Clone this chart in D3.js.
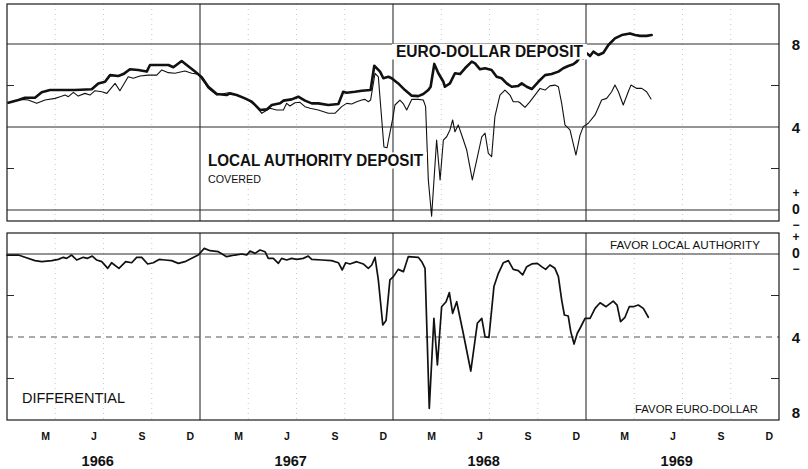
<!DOCTYPE html>
<html lang="en">
<meta charset="utf-8">
<style>
  body { margin: 0; background: #fff; }
  svg { display: block; font-family: "Liberation Sans", Arial, sans-serif; }
  .frame { fill: none; stroke: #1a1a1a; stroke-width: 1.2; }
  .grid { stroke: #2a2a2a; stroke-width: 1; }
  .grid-soft { stroke: #555; stroke-width: 1; stroke-dasharray: 6 5; }
  .quarter { stroke: #bbb; stroke-width: 0.8; stroke-dasharray: 1 4; }
  .year { stroke: #1a1a1a; stroke-width: 1; }
  .series { fill: none; stroke: #111; stroke-linejoin: round; stroke-linecap: round; }
  .lbl { fill: #111; }
</style>
<body>
<svg width="808" height="469"></svg>

<script src="https://d3js.org/d3.v7.min.js"></script>
<script>
  // values, x as decimal year, y in percent
  const euroDollar = [
    [1966.007,5.17],[1966.059,5.30],[1966.093,5.41],[1966.145,5.41],[1966.180,5.67],[1966.223,5.78],
    [1966.283,5.78],[1966.352,5.78],[1966.439,5.82],[1966.473,6.10],[1966.508,6.18],[1966.534,6.50],
    [1966.577,6.46],[1966.603,6.55],[1966.637,6.78],[1966.680,6.75],[1966.724,6.67],[1966.741,6.99],
    [1966.793,6.99],[1966.836,6.99],[1966.862,6.88],[1966.905,7.18],[1966.931,6.99],[1966.974,6.67],
    [1967.009,6.40],[1967.043,5.94],[1967.087,5.59],[1967.138,5.54],[1967.155,5.62],[1967.190,5.54],
    [1967.233,5.38],[1967.268,5.22],[1967.311,4.82],[1967.346,4.85],[1967.372,5.06],[1967.415,5.14],
    [1967.432,5.27],[1967.475,5.33],[1967.509,5.46],[1967.544,5.27],[1967.579,5.14],[1967.613,5.14],
    [1967.665,5.06],[1967.717,5.11],[1967.742,5.70],[1967.760,5.65],[1967.803,5.70],[1967.838,5.75],
    [1967.884,5.78],[1967.903,6.95],[1967.933,6.67],[1967.950,6.35],[1967.976,6.42],[1967.993,6.35],
    [1968.027,6.10],[1968.062,5.78],[1968.097,5.51],[1968.131,5.49],[1968.157,5.59],[1968.183,5.78],
    [1968.195,5.94],[1968.214,7.04],[1968.235,6.59],[1968.261,6.18],[1968.269,5.94],[1968.295,6.10],
    [1968.321,6.59],[1968.347,6.55],[1968.373,6.83],[1968.408,7.15],[1968.425,7.07],[1968.451,6.78],
    [1968.477,6.83],[1968.511,6.75],[1968.537,6.42],[1968.563,6.35],[1968.589,6.10],[1968.615,5.94],
    [1968.649,5.98],[1968.667,6.10],[1968.693,5.94],[1968.719,5.83],[1968.753,6.18],[1968.788,6.50],
    [1968.822,6.55],[1968.857,6.67],[1968.882,6.83],[1968.908,6.94],[1968.934,7.02],[1968.952,7.15],
    [1968.969,7.36],[1968.986,7.31],[1969.004,7.55],[1969.021,7.42],[1969.038,7.63],[1969.064,7.47],
    [1969.090,7.58],[1969.116,7.95],[1969.150,8.27],[1969.185,8.43],[1969.228,8.51],[1969.254,8.43],
    [1969.280,8.39],[1969.314,8.39],[1969.340,8.43]
  ]

  const localAuthority = [
    [1966.007,5.17],[1966.076,5.33],[1966.110,5.30],[1966.154,5.14],[1966.197,5.30],[1966.249,5.38],
    [1966.275,5.46],[1966.301,5.54],[1966.318,5.46],[1966.344,5.67],[1966.369,5.49],[1966.404,5.62],
    [1966.430,5.54],[1966.456,5.75],[1966.491,5.70],[1966.517,5.62],[1966.560,6.10],[1966.585,5.75],
    [1966.628,6.42],[1966.654,6.35],[1966.689,6.46],[1966.732,6.50],[1966.776,6.50],[1966.802,6.75],
    [1966.836,6.62],[1966.870,6.59],[1966.922,6.70],[1966.957,6.59],[1966.991,6.55],[1967.026,6.10],
    [1967.043,5.86],[1967.087,5.54],[1967.147,5.65],[1967.190,5.54],[1967.250,5.30],[1967.294,4.98],
    [1967.320,4.66],[1967.363,4.90],[1967.397,4.82],[1967.432,4.82],[1967.449,5.14],[1967.466,5.01],
    [1967.492,5.17],[1967.518,5.19],[1967.544,4.98],[1967.570,4.90],[1967.613,4.82],[1967.665,4.66],
    [1967.699,4.66],[1967.734,4.98],[1967.760,5.14],[1967.786,5.11],[1967.812,5.22],[1967.838,5.30],
    [1967.855,5.33],[1967.872,5.22],[1967.884,5.30],[1967.907,6.59],[1967.924,6.42],[1967.953,3.04],
    [1967.969,3.00],[1968.000,4.48],[1968.010,5.06],[1968.036,5.30],[1968.054,5.11],[1968.071,4.82],
    [1968.097,5.33],[1968.131,5.33],[1968.157,5.30],[1968.169,4.98],[1968.183,1.45],[1968.200,-0.30],
    [1968.226,3.37],[1968.244,1.45],[1968.261,3.37],[1968.278,3.53],[1968.295,3.86],[1968.309,4.34],
    [1968.321,3.77],[1968.338,4.10],[1968.359,3.53],[1968.382,2.89],[1968.411,1.45],[1968.434,2.41],
    [1968.460,3.53],[1968.477,3.70],[1968.494,2.73],[1968.511,2.57],[1968.528,4.50],[1968.554,5.54],
    [1968.580,5.78],[1968.606,5.54],[1968.623,5.22],[1968.649,5.22],[1968.658,5.17],[1968.684,4.95],
    [1968.710,5.22],[1968.762,5.86],[1968.788,5.78],[1968.813,5.98],[1968.839,6.02],[1968.857,5.94],
    [1968.874,5.14],[1968.891,4.10],[1968.917,3.86],[1968.948,2.65],[1968.969,3.61],[1968.986,4.02],
    [1969.012,4.18],[1969.047,4.58],[1969.081,5.30],[1969.107,5.38],[1969.133,5.70],[1969.150,6.02],
    [1969.168,5.70],[1969.193,5.06],[1969.219,5.70],[1969.233,6.02],[1969.263,5.86],[1969.289,5.86],
    [1969.314,5.70],[1969.337,5.35]
  ]

  // local authority minus euro-dollar; negative favours euro-dollar
  const differential = [
    [1966.000,-0.05],[1966.059,-0.05],[1966.093,-0.16],[1966.145,-0.32],[1966.180,-0.37],[1966.232,-0.32],
    [1966.266,-0.26],[1966.292,-0.16],[1966.309,-0.21],[1966.335,-0.05],[1966.361,-0.29],[1966.395,-0.16],
    [1966.418,-0.21],[1966.442,-0.10],[1966.465,-0.29],[1966.491,-0.37],[1966.522,-0.69],[1966.542,-0.42],
    [1966.580,-0.69],[1966.615,-0.37],[1966.646,-0.42],[1966.672,-0.16],[1966.698,-0.16],[1966.729,-0.48],
    [1966.758,-0.42],[1966.788,-0.26],[1966.819,-0.29],[1966.853,-0.32],[1966.888,-0.45],[1966.922,-0.37],
    [1966.957,-0.21],[1966.991,-0.05],[1967.022,0.27],[1967.052,0.16],[1967.095,0.11],[1967.138,-0.13],
    [1967.181,-0.05],[1967.216,0.00],[1967.242,-0.05],[1967.259,0.14],[1967.285,0.03],[1967.311,0.19],
    [1967.337,0.11],[1967.354,-0.21],[1967.380,-0.21],[1967.406,-0.45],[1967.423,-0.21],[1967.449,-0.29],
    [1967.475,-0.21],[1967.501,-0.26],[1967.535,-0.21],[1967.561,-0.10],[1967.579,-0.26],[1967.631,-0.29],
    [1967.682,-0.32],[1967.717,-0.42],[1967.737,-0.77],[1967.755,-0.42],[1967.777,-0.48],[1967.812,-0.37],
    [1967.846,-0.48],[1967.872,-0.69],[1967.890,-0.53],[1967.907,-0.16],[1967.924,-1.25],[1967.947,-3.42],
    [1967.964,-3.21],[1967.984,-1.25],[1968.002,-1.09],[1968.027,-0.74],[1968.054,-0.85],[1968.079,-0.13],
    [1968.131,-0.16],[1968.149,-0.37],[1968.166,-0.69],[1968.188,-7.44],[1968.212,-3.10],[1968.230,-5.35],
    [1968.252,-2.54],[1968.275,-2.30],[1968.292,-1.86],[1968.309,-2.86],[1968.330,-2.30],[1968.364,-3.82],
    [1968.403,-5.64],[1968.437,-3.34],[1968.460,-3.10],[1968.477,-3.99],[1968.497,-4.02],[1968.523,-1.57],
    [1968.546,-0.93],[1968.572,-0.42],[1968.598,-0.32],[1968.623,-0.74],[1968.649,-0.80],[1968.672,-1.01],
    [1968.693,-0.61],[1968.719,-0.48],[1968.748,-0.45],[1968.770,-0.61],[1968.791,-0.74],[1968.813,-0.53],
    [1968.839,-0.69],[1968.857,-1.09],[1968.874,-2.22],[1968.888,-2.94],[1968.908,-2.99],[1968.921,-3.74],
    [1968.938,-4.34],[1968.955,-3.82],[1968.972,-3.53],[1968.995,-3.10],[1969.021,-3.10],[1969.047,-2.62],
    [1969.073,-2.35],[1969.104,-2.54],[1969.141,-2.27],[1969.161,-2.46],[1969.179,-3.26],[1969.202,-3.05],
    [1969.224,-2.54],[1969.245,-2.54],[1969.271,-2.46],[1969.297,-2.62],[1969.323,-3.05]
  ]

  const years = [1966, 1967, 1968, 1969]
  const monthLabels = ['M', 'J', 'S', 'D']
  const monthIndex = [2, 5, 8, 11]
  const topGrid = [0, 4, 8]
  const topMinor = [2, 6]
  const bottomMinor = [-2, -6]

  let svg = d3.select('svg')

  let x = d3.scaleLinear().domain([1966, 1970]).range([7, 779])
  let yTop = d3.scaleLinear().domain([0, 8]).range([210, 44])
  let yBot = d3.scaleLinear().domain([0, -8]).range([254, 420])

  const topBox = { y0: 4, y1: 221 }
  const botBox = { y0: 233, y1: 420 }

  // quarter dotted lines and year lines in both panels
  let quarters = []
  years.forEach(yr => [0.25, 0.5, 0.75].forEach(q => quarters.push(yr + q)))

  ;[topBox, botBox].forEach(box => {
    svg.append('g').selectAll('line').data(quarters).enter()
      .append('line').attr('class', 'quarter')
      .attr('x1', d => x(d)).attr('x2', d => x(d))
      .attr('y1', box.y0).attr('y2', box.y1)
    svg.append('g').selectAll('line').data(years.slice(1)).enter()
      .append('line').attr('class', 'year')
      .attr('x1', d => x(d)).attr('x2', d => x(d))
      .attr('y1', box.y0).attr('y2', box.y1)
  })

  // horizontal grid, top panel
  svg.append('g').selectAll('line').data(topGrid).enter()
    .append('line').attr('class', 'grid')
    .attr('x1', x(1966)).attr('x2', x(1970))
    .attr('y1', d => yTop(d)).attr('y2', d => yTop(d))
    .attr('stroke-width', d => d === 0 ? 1.4 : 1)

  // bottom panel: zero line and dashed 4 line
  svg.append('line').attr('class', 'grid')
    .attr('x1', x(1966)).attr('x2', x(1970))
    .attr('y1', yBot(0)).attr('y2', yBot(0)).attr('stroke-width', 1.5)
  svg.append('line').attr('class', 'grid-soft')
    .attr('x1', x(1966)).attr('x2', x(1970))
    .attr('y1', yBot(-4)).attr('y2', yBot(-4))

  // short inner ticks on both edges
  function sideTicks(vals, scale) {
    let g = svg.append('g')
    vals.forEach(v => {
      g.append('line').attr('class', 'grid')
        .attr('x1', x(1966)).attr('x2', x(1966) + 7)
        .attr('y1', scale(v)).attr('y2', scale(v))
      g.append('line').attr('class', 'grid')
        .attr('x1', x(1970) - 8).attr('x2', x(1970))
        .attr('y1', scale(v)).attr('y2', scale(v))
    })
  }
  sideTicks(topMinor, yTop)
  sideTicks(bottomMinor, yBot)

  // series
  let lineTop = d3.line().x(d => x(d[0])).y(d => yTop(d[1]))
  let lineBot = d3.line().x(d => x(d[0])).y(d => yBot(d[1]))

  svg.append('path').datum(localAuthority).attr('class', 'series')
    .attr('d', lineTop).attr('stroke-width', 1.1)
  svg.append('path').datum(euroDollar).attr('class', 'series')
    .attr('d', lineTop).attr('stroke-width', 2.6)
  svg.append('path').datum(differential).attr('class', 'series')
    .attr('d', lineBot).attr('stroke-width', 1.7)

  // frames
  svg.append('rect').attr('class', 'frame')
    .attr('x', x(1966)).attr('y', topBox.y0)
    .attr('width', x(1970) - x(1966)).attr('height', topBox.y1 - topBox.y0)
  svg.append('rect').attr('class', 'frame')
    .attr('x', x(1966)).attr('y', botBox.y0)
    .attr('width', x(1970) - x(1966)).attr('height', botBox.y1 - botBox.y0)

  // labels inside the panels, knocked out of the grid behind them
  function label(txt, px, py, size, weight, len, knock) {
    if (knock) {
      svg.append('rect').attr('fill', '#fff')
        .attr('x', px - 4).attr('y', py - size * 0.8)
        .attr('width', len + 8).attr('height', size * 0.95)
    }
    svg.append('text').attr('class', 'lbl')
      .attr('x', px).attr('y', py)
      .attr('font-size', size).attr('font-weight', weight)
      .attr('textLength', len).attr('lengthAdjust', 'spacingAndGlyphs')
      .text(txt)
  }
  label('EURO-DOLLAR DEPOSIT', 396, 57, 16.5, 'bold', 187, true)
  label('LOCAL AUTHORITY DEPOSIT', 208, 166, 17, 'bold', 215, true)
  label('COVERED', 208, 183, 10.5, 'normal', 53, false)
  label('DIFFERENTIAL', 22, 403, 14.5, 'normal', 103, false)
  label('FAVOR LOCAL AUTHORITY', 610, 248.5, 11, 'normal', 150, false)
  label('FAVOR EURO-DOLLAR', 635, 412.5, 11, 'normal', 123, false)

  // right-hand scale
  let right = svg.append('g').attr('font-weight', 'bold').attr('text-anchor', 'middle')
    .attr('fill', '#111')
  right.append('text').attr('x', 796).attr('y', yTop(8) + 5.5).attr('font-size', 15).text('8')
  right.append('text').attr('x', 796).attr('y', yTop(4) + 5.5).attr('font-size', 15).text('4')
  right.append('text').attr('x', 796).attr('y', yBot(-4) + 5.5).attr('font-size', 15).text('4')
  right.append('text').attr('x', 796).attr('y', yBot(-8) - 2).attr('font-size', 15).text('8')
  // stacked "+ 0 -" marks at each zero line
  ;[yTop(0) - 1, yBot(0) - 1].forEach(cy => {
    right.append('text').attr('x', 796).attr('y', cy - 12).attr('font-size', 12).text('+')
    right.append('text').attr('x', 796).attr('y', cy + 5).attr('font-size', 14).text('0')
    right.append('text').attr('x', 796).attr('y', cy + 19.5).attr('font-size', 12).text('\u2212')
  })

  // month and year labels
  let months = []
  years.forEach(yr => monthIndex.forEach((m, i) => months.push({ v: yr + (m + 0.4) / 12, t: monthLabels[i] })))
  svg.append('g').selectAll('text').data(months).enter()
    .append('text').attr('class', 'lbl')
    .attr('x', d => x(d.v)).attr('y', 440)
    .attr('text-anchor', 'middle').attr('font-size', 10.5).attr('font-weight', 'bold')
    .text(d => d.t)
  svg.append('g').selectAll('text').data(years).enter()
    .append('text').attr('class', 'lbl')
    .attr('x', d => x(d + 0.47)).attr('y', 465.5)
    .attr('text-anchor', 'middle').attr('font-size', 14.5).attr('font-weight', 'bold')
    .text(d => d)
</script>
</body>
</html>
